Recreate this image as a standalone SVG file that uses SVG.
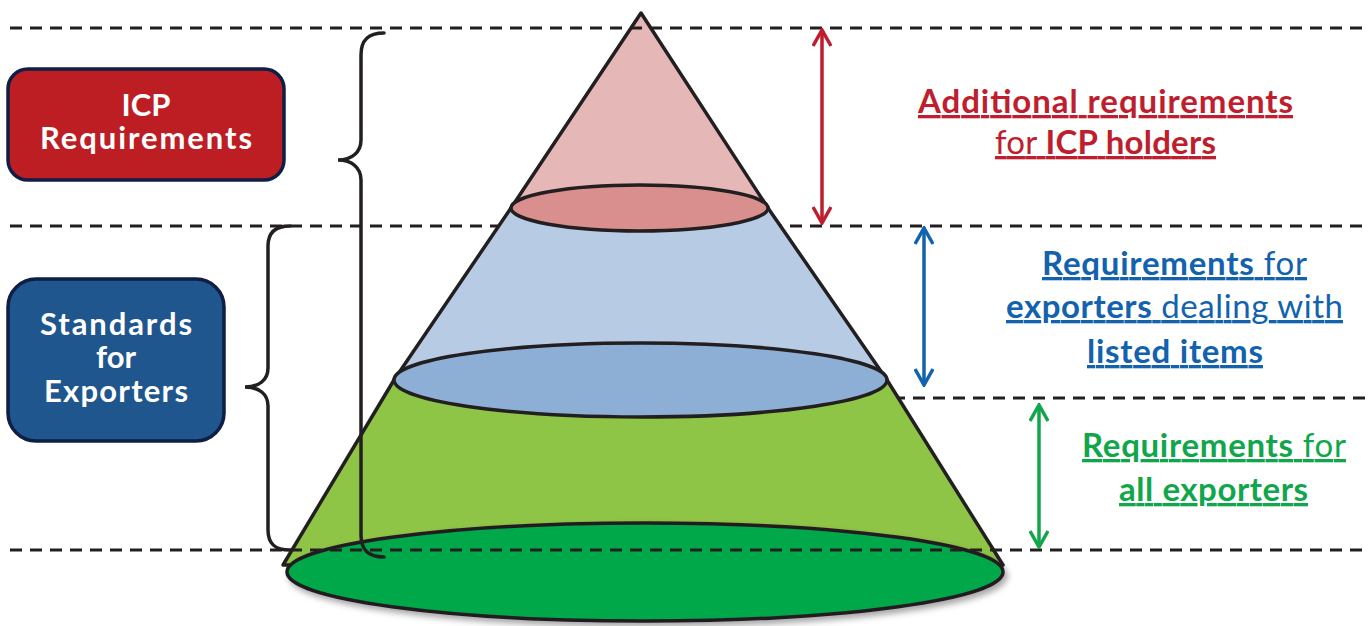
<svg xmlns="http://www.w3.org/2000/svg" width="1368" height="626" viewBox="0 0 1368 626">
<style>
.guide{stroke:#231F20;stroke-width:3;stroke-dasharray:12 8;fill:none}
.edge{stroke:#231F20;stroke-width:3.5;stroke-linejoin:round}
.brace{stroke:#231F20;stroke-width:3.5;fill:none;stroke-linecap:round}
.box{stroke:#0E1E45;stroke-width:3.5}
.boxtxt{font-family:Lato,"Open Sans",sans-serif;font-weight:700;font-size:31px;fill:#FFFFFF;text-anchor:middle}
.lbl{font-family:Lato,"Open Sans",sans-serif;font-size:33px;text-anchor:middle;text-decoration:underline}
.b{font-weight:700}
.r{font-weight:400}
.red{fill:#BE1E2D}
.blue{fill:#1262AD}
.green{fill:#11A64B}
.arr{fill:none;stroke-width:3.5}
</style>
<defs>
<marker id="mRed" viewBox="0 0 20 20" refX="18" refY="10" markerWidth="20" markerHeight="20" markerUnits="userSpaceOnUse" orient="auto-start-reverse"><path d="M2,1 L18,10 L2,19" fill="none" stroke="#BE1E2D" stroke-width="3.5" stroke-linejoin="miter"/></marker>
<marker id="mBlue" viewBox="0 0 20 20" refX="18" refY="10" markerWidth="20" markerHeight="20" markerUnits="userSpaceOnUse" orient="auto-start-reverse"><path d="M2,1 L18,10 L2,19" fill="none" stroke="#1262AD" stroke-width="3.5" stroke-linejoin="miter"/></marker>
<marker id="mGreen" viewBox="0 0 20 20" refX="18" refY="10" markerWidth="20" markerHeight="20" markerUnits="userSpaceOnUse" orient="auto-start-reverse"><path d="M2,1 L18,10 L2,19" fill="none" stroke="#11A64B" stroke-width="3.5" stroke-linejoin="miter"/></marker>
<filter id="shadow" x="-10%" y="-30%" width="120%" height="160%"><feDropShadow dx="3" dy="4" stdDeviation="3" flood-color="#000" flood-opacity="0.35"/></filter>
</defs>

<g id="guides-back">
<line class="guide" x1="10" y1="226" x2="1368" y2="226"/>
<line class="guide" x1="893" y1="398" x2="1368" y2="398"/>
</g>

<g id="cone">
<g id="cone-green">
<polygon class="edge" fill="#8FC546" points="394,380 887,380 1003,565 283,565"/>
<ellipse class="edge" fill="#00A84A" cx="645" cy="572" rx="358" ry="49" filter="url(#shadow)"/>
</g>
<g id="cone-blue">
<polygon class="edge" fill="#B7CBE4" points="511,208 768,208 887,380 394,380"/>
<ellipse class="edge" fill="#8EAFD5" cx="640.5" cy="380" rx="246.5" ry="37"/>
</g>
<g id="cone-red">
<polygon class="edge" fill="#E6B7B7" points="641,13 768,208 511,208"/>
<ellipse class="edge" fill="#D98F8E" cx="639.5" cy="208" rx="128.5" ry="23"/>
</g>
</g>

<g id="guides-front">
<line class="guide" x1="10" y1="28" x2="1368" y2="28"/>
<line class="guide" x1="10" y1="550" x2="1368" y2="550"/>
</g>

<g id="braces">
<path class="brace" d="M384,33 C368,33 361,40 361,55 L361,140 C361,152 352,160 338,160 C352,160 361,168 361,180 L361,535 C361,550 368,557 384,557"/>
<path class="brace" d="M290,226 C275,226 268,233 268,246 L268,368 C268,380 259,387 245,387 C259,387 268,394 268,406 L268,530 C268,544 275,550 290,550"/>
</g>

<g id="box-icp">
<rect class="box" x="8" y="69" width="276" height="111" rx="20" fill="#BC1E24"/>
<text class="boxtxt" x="146" y="116">ICP</text>
<text class="boxtxt" x="146" y="149" textLength="212">Requirements</text>
</g>

<g id="box-standards">
<rect class="box" x="8" y="279" width="216" height="162" rx="28" fill="#1F568D"/>
<text class="boxtxt" x="116" y="335" textLength="152">Standards</text>
<text class="boxtxt" x="116" y="368">for</text>
<text class="boxtxt" x="116" y="402" textLength="144">Exporters</text>
</g>

<g id="connectors">
<line class="arr" stroke="#BE1E2D" x1="822" y1="30" x2="822" y2="223" marker-start="url(#mRed)" marker-end="url(#mRed)"/>
<line class="arr" stroke="#1262AD" x1="924" y1="228" x2="924" y2="385" marker-start="url(#mBlue)" marker-end="url(#mBlue)"/>
<line class="arr" stroke="#11A64B" x1="1039" y1="405" x2="1039" y2="547" marker-start="url(#mGreen)" marker-end="url(#mGreen)"/>
</g>

<g id="label-icp">
<text class="lbl red b" x="1105.5" y="113" textLength="375">Additional requirements</text>
<text class="lbl red" x="1105.5" y="154" textLength="221"><tspan class="r">for </tspan><tspan class="b">ICP holders</tspan></text>
</g>

<g id="label-listed">
<text class="lbl blue" x="1174.5" y="275" textLength="265"><tspan class="b">Requirements</tspan><tspan class="r"> for</tspan></text>
<text class="lbl blue" x="1174.5" y="318" textLength="337"><tspan class="b">exporters</tspan><tspan class="r"> dealing with</tspan></text>
<text class="lbl blue b" x="1175" y="363" textLength="176">listed items</text>
</g>

<g id="label-all">
<text class="lbl green" x="1214" y="457" textLength="264"><tspan class="b">Requirements</tspan><tspan class="r"> for</tspan></text>
<text class="lbl green b" x="1213.5" y="501" textLength="189">all exporters</text>
</g>
</svg>
